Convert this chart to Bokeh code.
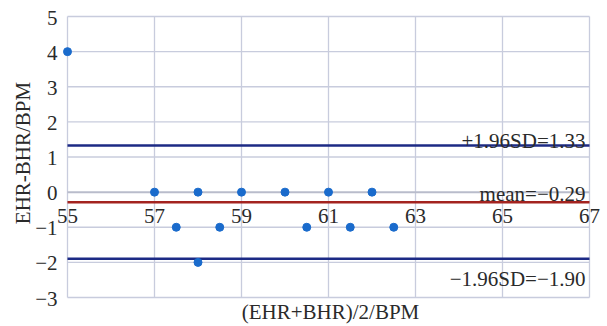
import math
from bokeh.plotting import figure
from bokeh.models import Label, Range1d
from bokeh.embed import file_html
from bokeh.resources import INLINE

# data
mean_hr = [55, 57, 57.5, 58, 58, 58.5, 59, 60, 60.5, 61, 61.5, 62, 62.5]
diff_hr = [4, 0, -1, 0, -2, -1, 0, 0, -1, 0, -1, 0, -1]
x_ticks = [55, 57, 59, 61, 63, 65, 67]
x_tick_labels = ["55", "57", "59", "61", "63", "65", "67"]
y_ticks = [-3, -2, -1, 0, 1, 2, 3, 4, 5]
y_tick_labels = ["\u22123", "\u22122", "\u22121", "0", "1", "2", "3", "4", "5"]
limit_values = [1.33, -0.29, -1.90]
limit_labels = ["+1.96SD=1.33", "mean=\u22120.29", "\u22121.96SD=\u22121.90"]
limit_colors = ["#1c2a85", "#a3231f", "#1c2a85"]
x_title = "(EHR+BHR)/2/BPM"
y_title = "EHR-BHR/BPM"

FONT = "Liberation Serif"
GRID = "#c8ccdd"
TXT = "#2a2a2a"
FS = "21px"

W, H = 607, 326
L, R, T, B = 67, 589, 16, 297  # plot area edges in canvas pixels
px_per_x = (R - L) / (x_ticks[-1] - x_ticks[0])
px_per_y = (B - T) / (y_ticks[-1] - y_ticks[0])
xr = Range1d(x_ticks[0] - L / px_per_x, x_ticks[-1] + (W - R) / px_per_x)
yr = Range1d(y_ticks[0] - (H - B) / px_per_y, y_ticks[-1] + T / px_per_y)

p = figure(width=W, height=H, output_backend="svg", toolbar_location=None,
           x_range=xr, y_range=yr, min_border=0)
p.outline_line_color = None
p.background_fill_color = "white"
p.border_fill_color = "white"
p.xaxis.visible = False
p.yaxis.visible = False
p.grid.visible = False

x0, x1 = x_ticks[0], x_ticks[-1]
y0, y1 = y_ticks[0], y_ticks[-1]
# grid
p.segment(x0=x_ticks, y0=[y0] * len(x_ticks), x1=x_ticks, y1=[y1] * len(x_ticks),
          line_color=GRID, line_width=1.3)
p.segment(x0=[x0] * len(y_ticks), y0=y_ticks, x1=[x1] * len(y_ticks), y1=y_ticks,
          line_color=[("#b9bccb" if v == 0 else GRID) for v in y_ticks],
          line_width=[(2 if v == 0 else 1.3) for v in y_ticks])

# tick labels
for xv, xl in zip(x_ticks, x_tick_labels):
    p.add_layout(Label(x=xv, y=0, text=xl, text_align="center",
                       text_baseline="alphabetic", y_offset=-24,
                       text_font=FONT, text_font_size=FS, text_color=TXT))
for yv, yl in zip(y_ticks, y_tick_labels):
    p.add_layout(Label(x=x0, y=yv, text=yl, text_align="right",
                       text_baseline="middle", x_offset=-10, y_offset=-1,
                       text_font=FONT, text_font_size=FS, text_color=TXT))

# axis titles
p.add_layout(Label(x=(x0 + x1) / 2, y=y0, text=x_title, text_align="center",
                   text_baseline="middle", x_offset=2, y_offset=-14,
                   text_font=FONT, text_font_size=FS, text_color=TXT))
p.add_layout(Label(x=x0, y=(y0 + y1) / 2, text=y_title, text_align="center",
                   text_baseline="middle", x_offset=-45, y_offset=4,
                   angle=math.pi / 2, text_font=FONT, text_font_size=FS,
                   text_color=TXT))

# limits of agreement
for v, lab, c in zip(limit_values, limit_labels, limit_colors):
    p.segment(x0=[x0], y0=[v], x1=[x1], y1=[v], line_color=c, line_width=2.5)
    below = v < -1
    p.add_layout(Label(x=x1, y=v, text=lab, text_align="right",
                       text_baseline="alphabetic", x_offset=-4,
                       y_offset=-20 if below else (8 if v < 0 else 4),
                       text_font=FONT, text_font_size=FS, text_color=TXT))

p.scatter(mean_hr, diff_hr, size=8, color="#1a6bcc")

open("out.html", "w").write(file_html(p, INLINE))
